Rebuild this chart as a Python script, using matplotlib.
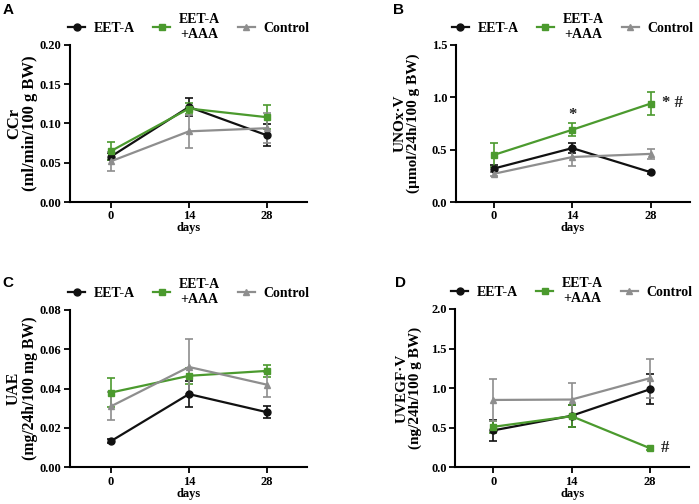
import matplotlib
matplotlib.use("Agg")
import matplotlib.pyplot as plt

# data: days, then mean and sem for each group in each panel
days = [0, 14, 28]
groups = ["EET-A", "EET-A\n+AAA", "Control"]

ccr_mean = {"EET-A": [0.058, 0.121, 0.085],
            "EET-A\n+AAA": [0.065, 0.119, 0.108],
            "Control": [0.052, 0.090, 0.094]}
ccr_sem = {"EET-A": [0.004, 0.011, 0.014],
           "EET-A\n+AAA": [0.011, 0.007, 0.015],
           "Control": [0.012, 0.021, 0.019]}

unox_mean = {"EET-A": [0.32, 0.515, 0.285],
             "EET-A\n+AAA": [0.45, 0.69, 0.94],
             "Control": [0.27, 0.43, 0.46]}
unox_sem = {"EET-A": [0.03, 0.05, 0.015],
            "EET-A\n+AAA": [0.115, 0.06, 0.11],
            "Control": [0.02, 0.09, 0.05]}

uae_mean = {"EET-A": [0.0133, 0.0372, 0.028],
            "EET-A\n+AAA": [0.038, 0.0465, 0.049],
            "Control": [0.031, 0.051, 0.042]}
uae_sem = {"EET-A": [0.0008, 0.0068, 0.003],
           "EET-A\n+AAA": [0.0073, 0.004, 0.003],
           "Control": [0.0072, 0.0140, 0.0064]}

uvegf_mean = {"EET-A": [0.465, 0.65, 0.985],
              "EET-A\n+AAA": [0.51, 0.645, 0.24],
              "Control": [0.85, 0.855, 1.125]}
uvegf_sem = {"EET-A": [0.13, 0.14, 0.19],
             "EET-A\n+AAA": [0.08, 0.14, 0.02],
             "Control": [0.26, 0.205, 0.245]}

colors = {"EET-A": "#111111", "EET-A\n+AAA": "#4b9a2e", "Control": "#8e8e8e"}
markers = {"EET-A": "o", "EET-A\n+AAA": "s", "Control": "^"}

plt.rcParams["font.family"] = "Liberation Serif"
plt.rcParams["font.weight"] = "bold"

fig = plt.figure(figsize=(6.99, 5.04), dpi=100)

# letter, axes rect, letter pos, xlim, means, sems, ylim, yticks, fmt,
# ylabel, ylabel size, ylabel x, legend x, notes
panels = [
    ("A", [0.100, 0.599, 0.339, 0.312], (0.004, 0.980), (-7.4, 35.2),
     ccr_mean, ccr_sem, (0, 0.20), [0, 0.05, 0.10, 0.15, 0.20], "%.2f",
     "CCr\n(ml/min/100 g BW)", 12, -0.135, -0.008, []),
    ("B", [0.652, 0.599, 0.335, 0.312], (0.562, 0.980), (-6.8, 35.0),
     unox_mean, unox_sem, (0, 1.5), [0, 0.5, 1.0, 1.5], "%.1f",
     "UNOx\u00b7V\n(\u00b5mol/24h/100 g BW)", 11, -0.154, -0.017,
     [(14, 0.83, "*", "center"), (30.0, 0.95, "* #", "left")]),
    ("C", [0.100, 0.073, 0.339, 0.312], (0.004, 0.438), (-7.4, 35.2),
     uae_mean, uae_sem, (0, 0.08), [0, 0.02, 0.04, 0.06, 0.08], "%.2f",
     "UAE\n(mg/24h/100 mg BW)", 11.3, -0.135, -0.008, []),
    ("D", [0.651, 0.073, 0.335, 0.314], (0.565, 0.438), (-6.8, 35.0),
     uvegf_mean, uvegf_sem, (0, 2.0), [0, 0.5, 1.0, 1.5, 2.0], "%.1f",
     "UVEGF\u00b7V\n(ng/24h/100 g BW)", 11, -0.141, -0.017,
     [(30.0, 0.24, "#", "left")]),
]

for (letter, rect, lpos, xlim, means, sems, ylim, yticks, fmt,
     ylab, ylab_size, ylab_x, leg_x, notes) in panels:
    ax = fig.add_axes(rect)
    handles = []
    for g in groups:
        h = ax.errorbar(days, means[g], yerr=sems[g], color=colors[g],
                        marker=markers[g], markersize=5, linewidth=1.6,
                        elinewidth=1.2, capsize=3, capthick=1.2)
        handles.append(h[0])
    ax.set_xlim(*xlim)
    ax.set_ylim(*ylim)
    ax.set_xticks(days)
    ax.set_yticks(yticks)
    ax.set_yticklabels([fmt % v for v in yticks])
    ax.spines["top"].set_visible(False)
    ax.spines["right"].set_visible(False)
    ax.spines["left"].set_linewidth(1.5)
    ax.spines["bottom"].set_linewidth(1.5)
    ax.tick_params(direction="out", length=4, width=1.3, labelsize=9, pad=2)
    ax.set_xlabel("days", fontsize=9, fontweight="bold", labelpad=0)
    yl = ax.set_ylabel(ylab, fontsize=ylab_size, fontweight="bold",
                       linespacing=1.0)
    yl.set_multialignment("center")
    ax.yaxis.set_label_coords(ylab_x, 0.5)
    leg = ax.legend(handles, groups, ncol=3, loc="lower left",
                    bbox_to_anchor=(leg_x, 1.025), frameon=False, fontsize=10,
                    handlelength=1.25, columnspacing=1.3, handletextpad=0.6,
                    borderaxespad=0, borderpad=0)
    for t in leg.get_texts():
        t.set_multialignment("center")
        t.set_fontweight("bold")
    for x, y, s, ha in notes:
        ax.text(x, y, s, fontsize=12, ha=ha, va="center", color="#222222")
    fig.text(lpos[0], lpos[1], letter, family="Liberation Sans", fontsize=11,
             fontweight="bold", ha="left", va="center")

fig.savefig("out.png", dpi=100)
